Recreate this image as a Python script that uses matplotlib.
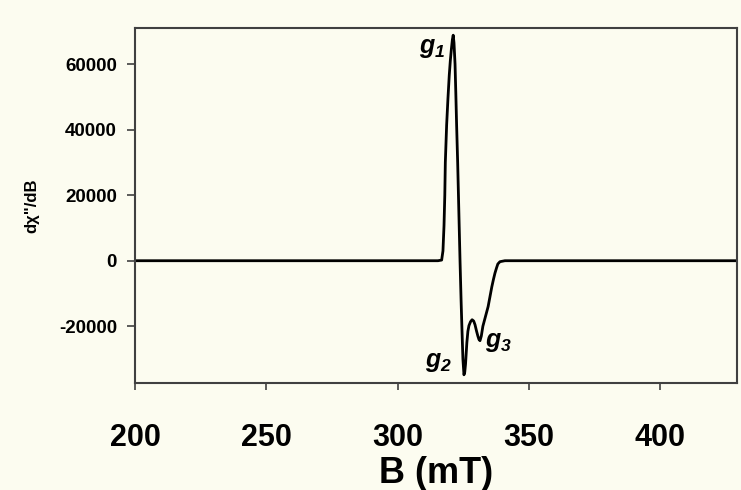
import matplotlib
matplotlib.use("Agg")
from matplotlib import pyplot as plt

# EPR spectrum
field_mT = [200, 300, 315.4, 316.8, 317.3, 317.7, 318.0, 318.2, 318.7, 319.2, 319.7,
            320.1, 320.5, 320.9, 321.2, 321.5, 321.9, 322.2, 322.5, 322.9, 323.2,
            323.8, 324.2, 324.5, 324.9, 325.3, 325.6, 325.9, 326.4, 326.8, 327.2,
            327.8, 328.4, 329.0, 329.5, 330.1, 330.6, 331.0, 331.4, 331.9, 332.5,
            333.5, 334.5, 335.2, 335.9, 336.5, 337.1, 337.7, 338.2, 339.0, 340.9,
            360, 430]
signal = [0, 0, 0, 200, 3000, 10700, 20000, 30000, 41400, 49500, 56600,
          61000, 64500, 67500, 68800, 66500, 60000, 51000, 41400, 30000, 20000,
          0, -12000, -20000, -30000, -34800, -34000, -31500, -25000, -21500, -19800,
          -18600, -18000, -18400, -19500, -21500, -23000, -24000, -24400, -23000, -20000,
          -17000, -14000, -11000, -8000, -5800, -3800, -2200, -1000, -300, 0,
          0, 0]

x_ticks = [200, 250, 300, 350, 400]
y_ticks = [-20000, 0, 20000, 40000, 60000]

# g labels (text, B, value)
g_labels = [("1", 313.1, 64800), ("2", 315.4, -30800), ("3", 338.3, -24700)]

bg = "#fcfcf0"
plt.rcParams["font.family"] = ["Liberation Sans", "DejaVu Sans"]
plt.rcParams["mathtext.fontset"] = "custom"
plt.rcParams["mathtext.rm"] = "Liberation Sans:bold:italic"
plt.rcParams["mathtext.it"] = "Liberation Sans:bold:italic"

fig = plt.figure(figsize=(7.41, 4.9), dpi=100, facecolor=bg)
ax = fig.add_axes([0.1822, 0.2184, 0.8124, 0.7238])
ax.set_facecolor(bg)

ax.plot(field_mT, signal, color="black", lw=2.0, solid_joinstyle="round")

ax.set_xlim(200, 429.3)
ax.set_ylim(-37300, 70900)
ax.set_xticks(x_ticks)
ax.set_yticks(y_ticks)
ax.set_xticklabels([str(t) for t in x_ticks], fontsize=22, fontweight="bold")
ax.set_yticklabels([str(t) for t in y_ticks], fontsize=13.5, fontweight="bold")
ax.tick_params(axis="x", direction="out", length=5, width=1.2, color="#404040", pad=24)
ax.tick_params(axis="y", direction="out", length=6, width=1.2, color="#404040", pad=7)

for s in ax.spines.values():
    s.set_color("#404040")
    s.set_linewidth(1.5)

ax.set_xlabel("B (mT)", fontsize=26, fontweight="bold", labelpad=2)
ax.set_ylabel("d\u03c7\"/dB", fontsize=12, fontweight="bold", labelpad=14)

for sub, bx, val in g_labels:
    ax.text(bx, val, "$g_{" + sub + "}$", fontsize=18, ha="center", va="center")

fig.savefig("out.png", dpi=100, facecolor=bg)
